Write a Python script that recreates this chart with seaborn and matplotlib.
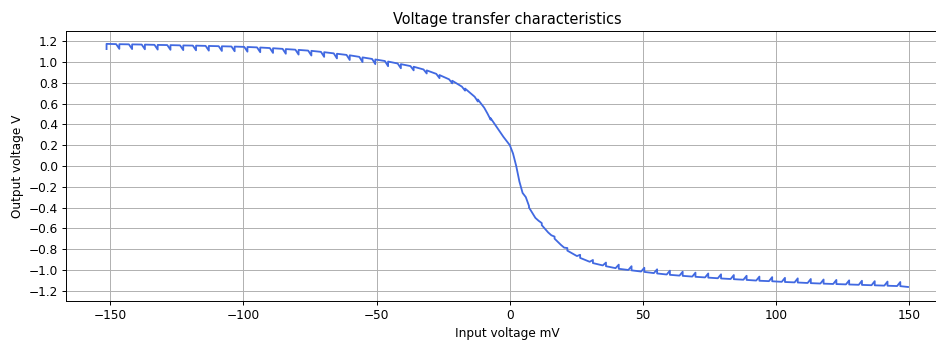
import numpy as np
import pandas as pd
import matplotlib
matplotlib.use("Agg")
import matplotlib.pyplot as plt
import seaborn as sns

# Step boundaries of the sweep (mV), curve level at each step (V) and spike size (V)
step_mv = [-151.4, -146.6, -141.8, -137.0, -132.2, -127.4, -122.6, -117.8, -113.0, -108.1,
           -103.3, -98.5, -93.7, -88.9, -84.1, -79.3, -74.5, -69.7, -64.9, -60.1,
           -55.3, -50.5, -45.7, -40.9, -36.1, -31.2, -26.4, -21.6, -16.8, -12.0,
           -7.2, -2.4, 2.4, 7.2, 12.0, 16.8, 21.6, 26.4, 31.2, 36.1,
           40.9, 45.7, 50.5, 55.3, 60.1, 64.9, 69.7, 74.5, 79.3, 84.1,
           88.9, 93.7, 98.5, 103.3, 108.1, 113.0, 117.8, 122.6, 127.4, 132.2,
           137.0, 141.8, 146.6]
step_level_v = [1.175, 1.172, 1.170, 1.168, 1.165, 1.163, 1.160, 1.158, 1.155, 1.152,
                1.149, 1.145, 1.140, 1.133, 1.125, 1.117, 1.108, 1.095, 1.080, 1.065,
                1.045, 1.025, 1.005, 0.980, 0.955, 0.920, 0.875, 0.820, 0.745, 0.640,
                0.460, 0.280, 0.000, -0.400, -0.570, -0.700, -0.815, -0.885, -0.935, -0.965,
                -0.990, -1.005, -1.020, -1.035, -1.048, -1.058, -1.067, -1.075, -1.083, -1.090,
                -1.097, -1.105, -1.110, -1.117, -1.122, -1.128, -1.133, -1.137, -1.141, -1.145,
                -1.149, -1.153, -1.157]
step_spike_v = [-0.050, -0.045, -0.045, -0.045, -0.045, -0.045, -0.045, -0.045, -0.045, -0.045,
                -0.045, -0.045, -0.045, -0.045, -0.045, -0.045, -0.045, -0.045, -0.045, -0.045,
                -0.045, -0.045, -0.045, -0.040, -0.035, -0.030, -0.030, -0.025, -0.020, -0.020,
                -0.015, 0.000, 0.000, 0.015, 0.020, 0.020, 0.025, 0.030, 0.030, 0.035,
                0.040, 0.040, 0.040, 0.040, 0.040, 0.040, 0.040, 0.040, 0.040, 0.040,
                0.040, 0.040, 0.040, 0.040, 0.040, 0.040, 0.040, 0.040, 0.040, 0.040,
                0.040, 0.040, 0.040]
spike_lead_mv = 1.2  # how far before each step the spike starts building

# Extra curve points in the steep transition region and the sweep end
extra_mv = [-9.6, -4.8, 0.0, 1.2, 3.6, 4.8, 9.6, 14.4, 19.2, 149.5]
extra_v = [0.560, 0.370, 0.200, 0.120, -0.150, -0.260, -0.500, -0.640, -0.760, -1.165]

xs, ys = [], []
for i, (b, lvl, spk) in enumerate(zip(step_mv, step_level_v, step_spike_v)):
    if i > 0 and spk != 0:
        prev = step_level_v[i - 1]
        xs.append(b - spike_lead_mv)
        ys.append(lvl + (prev - lvl) * 0.25)
    if spk != 0:
        xs.append(b)
        ys.append(lvl + spk)
    xs.append(b)
    ys.append(lvl)
xs += extra_mv
ys += extra_v
df = pd.DataFrame({"mv": xs, "v": ys})
df = df.sort_values("mv", kind="stable").reset_index(drop=True)

S = 0.872
fig = plt.figure(figsize=(9.36, 3.41), dpi=100)
ax = fig.add_axes([0.0710, 0.1182, 0.9418, 0.7909])
sns.lineplot(data=df, x="mv", y="v", sort=False, estimator=None,
             color="royalblue", linewidth=1.5 * S, ax=ax)
ax.set_xlim(-166.45, 164.5)
ax.set_ylim(-1.297, 1.299)
ax.set_xticks([-150, -100, -50, 0, 50, 100, 150])
ax.set_yticks(np.round(np.arange(-1.2, 1.21, 0.2), 1))
ax.tick_params(labelsize=10 * S, length=3.5 * S, width=0.8 * S, pad=3.5 * S)
for sp in ax.spines.values():
    sp.set_linewidth(0.8 * S)
ax.grid(True, color="#b0b0b0", linewidth=0.8 * S)
ax.set_axisbelow(True)
ax.set_title("Voltage transfer characteristics", fontsize=12 * S, pad=6 * S)
ax.set_xlabel("Input voltage mV", fontsize=10 * S, labelpad=4 * S)
ax.set_ylabel("Output voltage V", fontsize=10 * S, labelpad=4 * S)
fig.savefig("out.png", dpi=100)
